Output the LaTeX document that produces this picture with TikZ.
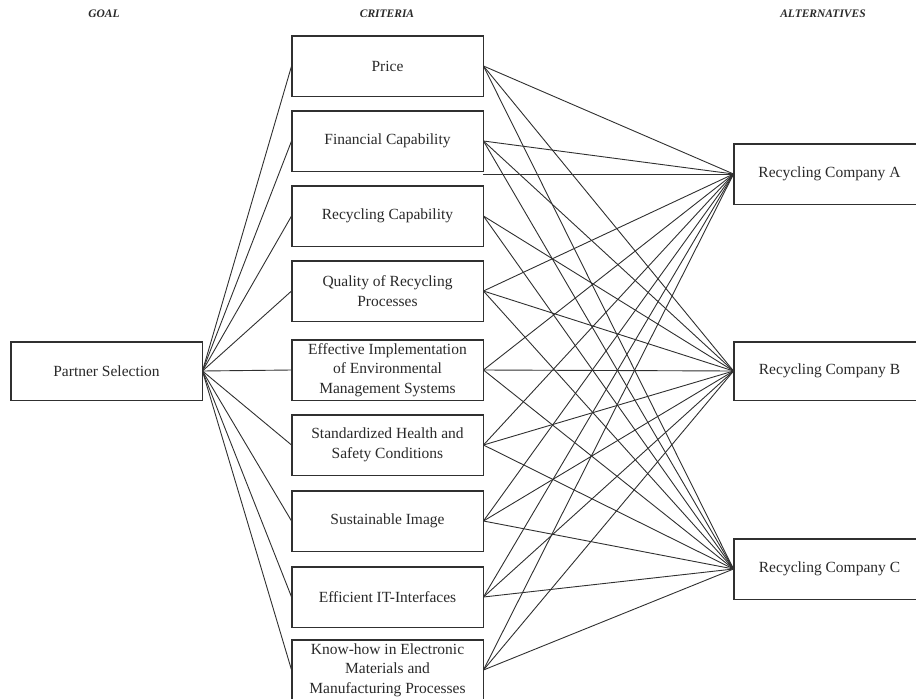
\documentclass[tikz,border=0pt]{standalone}
\usepackage{fontspec}
\setmainfont{Liberation Serif}
\definecolor{ink}{HTML}{303030}
\definecolor{txt}{HTML}{2A2A2A}
\tikzset{
  box/.style={draw=ink, line width=0.9pt, fill=white, minimum width=191pt, minimum height=60pt,
    inner sep=0pt, align=center, text=txt, font=\fontsize{15.5}{19.5}\selectfont},
  link/.style={draw=ink, line width=0.9pt},
  header/.style={text=txt, font=\fontsize{11.5}{13}\selectfont\bfseries\itshape}
}
\begin{document}
\begin{tikzpicture}[x=1pt,y=-1pt]
\useasboundingbox (0,0) rectangle (916,699);
\node[header] (hg) at (104,14) {GOAL};
\node[header] (hc) at (387,14) {CRITERIA};
\node[header] (ha) at (823,14) {ALTERNATIVES};

\node[box, minimum height=58pt] (ps) at (106.5,371) {Partner Selection};

\foreach \n/\y/\t in {
  c1/66/{Price},
  c2/141/{Financial Capability},
  c3/216/{Recycling Capability},
  c4/291/{Quality of Recycling\\Processes},
  c5/370/{Effective Implementation\\of Environmental\\Management Systems},
  c6/445/{Standardized Health and\\Safety Conditions},
  c7/521/{Sustainable Image},
  c8/597/{Efficient IT-Interfaces},
  c9/670/{Know-how in Electronic\\Materials and\\Manufacturing Processes}}
{
  \node[box] (\n) at (387.5,\y) {\t};
}

\node[box] (A) at (829.5,174) {Recycling Company A};
\node[box, minimum height=58pt] (B) at (829.5,371) {Recycling Company B};
\node[box] (C) at (829.5,569) {Recycling Company C};

% connectors goal -> criteria
\foreach \n in {c1,c2,c3,c4,c5,c6,c7,c8,c9}
  \draw[link] (ps.east) -- (\n.west);

% connectors criteria -> alternatives
\foreach \n in {c1,c2,c4,c5,c6,c7,c8,c9}
  \draw[link] (\n.east) -- (A.west);
\draw[link] (A.west -| c3.east) -- (A.west);
\foreach \n in {c1,c2,c3,c4,c5,c6,c7,c8,c9}
{
  \draw[link] (\n.east) -- (B.west);
  \draw[link] (\n.east) -- (C.west);
}

% box outlines on top of connector ends
\foreach \n in {ps,c1,c2,c3,c4,c5,c6,c7,c8,c9,A,B,C}
  \draw[draw=ink, line width=0.9pt] (\n.south west) rectangle (\n.north east);
\end{tikzpicture}
\end{document}
